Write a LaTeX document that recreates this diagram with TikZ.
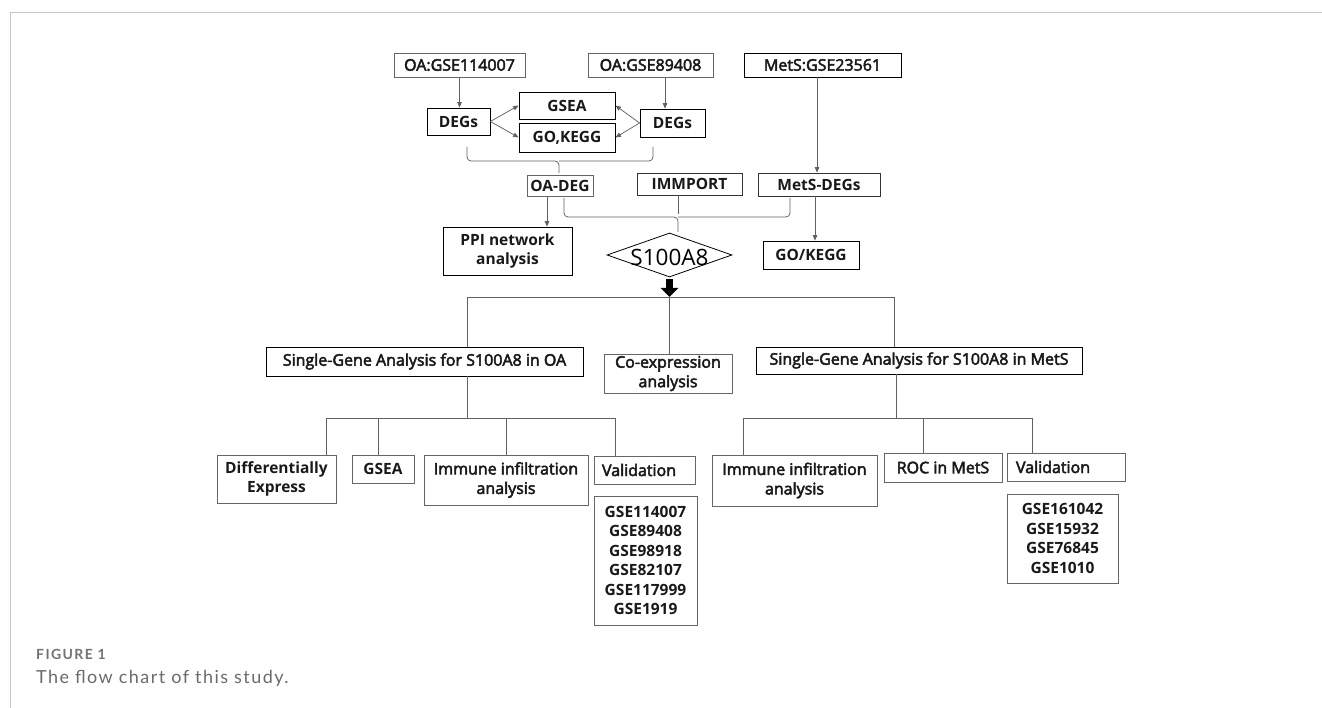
\documentclass[tikz,border=0pt]{standalone}
\usepackage{fontspec}
\setmainfont{Open Sans}
\newfontfamily\medf{Open Sans}[FakeBold=3]
\newfontfamily\capfont{Lato}
\usetikzlibrary{arrows.meta,shapes.geometric,calc}
\begin{document}
\begin{tikzpicture}[x=1pt,y=-1pt,
  bx/.style={draw=#1, line width=0.8pt, inner sep=0pt, align=center,
    font=\bfseries\fontsize{15.5}{19.5}\selectfont, text=black!90},
  bx/.default=black!60,
  md/.style={font=\medf\fontsize{16}{19.5}\selectfont},
  sz/.style 2 args={minimum width=#1pt, minimum height=#2pt},
  ln/.style={draw=black!62, line width=0.75pt},
  arr/.style={ln, -{Triangle[length=5.5pt,width=4.5pt]}},
  br/.style={ln, rounded corners=4pt},
]
\useasboundingbox (0,0) rectangle (1322,708);
% frame
\draw[black!22, line width=1pt] (10,708) -- (10,13) -- (1322,13);

% top row
\node[bx, md, sz={131}{24}] (g114) at (459.5,65) {OA:GSE114007};
\node[bx, md, sz={125}{24}] (g894) at (650.5,65) {OA:GSE89408};
\node[bx=black, md, sz={157}{24}] (g235) at (822.5,65) {MetS:GSE23561};
\node[bx=black, sz={63}{27}] (degL) at (458.5,121.5) {DEGs};
\node[bx=black, sz={96}{27}] (gsea1) at (567,105.5) {GSEA};
\node[bx=black, sz={96}{29}] (gok1) at (567,137.5) {GO,KEGG};
\node[bx=black, sz={65}{28}] (degR) at (672.5,123) {DEGs};
\node[bx, sz={66}{21}] (oadeg) at (560,185.5) {OA-DEG};
\node[bx=black!80, sz={105}{22}] (imm) at (689.5,184) {IMMPORT};
\node[bx=black!80, sz={122}{23}] (metsdeg) at (819,184.5) {MetS-DEGs};
\node[bx=black, sz={129}{48}] (ppi) at (507.5,251) {PPI network\\analysis};
\node[bx=black, sz={96}{28}] (gok2) at (811,255) {GO/KEGG};
\node[draw, diamond, line width=0.8pt, minimum width=125pt, minimum height=44pt, inner sep=0pt] (s100) at (669.5,255) {};
\node[font=\fontsize{22.5}{26}\selectfont, inner sep=0pt] (s100t) at ([yshift=-2pt]s100.center) {S100A8};

% connectors top
\draw[arr] (g114.south) -- (g114.south |- degL.north);
\draw[arr] ([xshift=14.5pt]g894.south) -- ([xshift=14.5pt]g894.south |- degR.north);
\draw[arr] ([xshift=-5.5pt]g235.south) -- ([xshift=-5.5pt]g235.south |- metsdeg.north);
\draw[arr] (degL.east) -- (gsea1.west);
\draw[arr] (degL.east) -- (gok1.west);
\draw[arr] (degR.west) -- (gsea1.east);
\draw[arr] (degR.west) -- (gok1.east);
% braces
\draw[br] (467,147) |- (559,161) -- (559,173);
\draw[br] (653,147) |- (559,161);
\draw[br] (564,198) |- (678,217) -- (678,232);
\draw[br] (790,198) |- (678,217);
\draw[ln] (imm.south -| 678,0) -- (678,214);
\draw[arr] ([xshift=-13pt]oadeg.south) -- ([xshift=-13pt]oadeg.south |- ppi.north);
\draw[arr] ([xshift=-4pt]metsdeg.south) -- ([xshift=-4pt]metsdeg.south |- gok2.north);

% thick arrow
\coordinate (hb) at (669.5,297);
\draw[line width=7pt, -{Triangle[length=9pt,width=17pt]}] ([yshift=-2pt]s100.south) -- (hb);

% second level
\node[bx=black, md, sz={317}{29}] (sgoa) at (424.5,361.5) {Single-Gene Analysis for S100A8 in OA};
\node[bx, md, sz={128}{39}] (coex) at (668,373.5) {Co-expression\\analysis};
\node[bx=black, md, sz={326}{27}] (sgmets) at (919,360.5) {Single-Gene Analysis for S100A8 in MetS};

\coordinate (t1) at (467,297);
\coordinate (t2) at (894,297);
\draw[ln] (sgoa.north -| t1) -- (t1) -- (t2) -- (sgmets.north -| t2);
\draw[ln] (hb) -- (coex.north -| hb);

% third level left
\node[bx, sz={119}{48}] (diff) at (276.5,479) {Differentially\\Express};
\node[bx, sz={62}{28}] (gsea2) at (383,469) {GSEA};
\node[bx, md, sz={164}{50}] (imml) at (506,480) {Immune infiltration\\analysis};
\node[bx, md, sz={101}{28}, text width=85pt, align=left] (vall) at (644.5,470) {Validation};
\node[bx, sz={103}{129}] (listl) at (645.5,560.5) {GSE114007\\GSE89408\\GSE98918\\GSE82107\\GSE117999\\GSE1919};

\coordinate (u1) at (467,418);
\coordinate (ul) at (326,418);
\coordinate (ur) at (615,418);
\coordinate (u2) at (378,418);
\coordinate (u3) at (506,418);
\draw[ln] (sgoa.south -| u1) -- (u1);
\draw[ln] (diff.north -| ul) -- (ul) -- (ur) -- (vall.north -| ur);
\draw[ln] (u2) -- (gsea2.north -| u2);
\draw[ln] (u3) -- (imml.north -| u3);

% third level right
\node[bx, md, sz={165}{51}] (immr) at (794.5,480.5) {Immune infiltration\\analysis};
\node[bx, md, sz={118}{29}] (roc) at (943,467.5) {ROC in MetS};
\node[bx, md, sz={118}{28}, text width=100pt, align=left] (valr) at (1066,467) {Validation};
\node[bx, sz={111}{89}] (listr) at (1062.5,538.5) {GSE161042\\GSE15932\\GSE76845\\GSE1010};

\coordinate (v1) at (896,418);
\coordinate (vl) at (743,418);
\coordinate (vr) at (1032,418);
\coordinate (v2) at (923,418);
\draw[ln] (sgmets.south -| v1) -- (v1);
\draw[ln] (immr.north -| vl) -- (vl) -- (vr) -- (valr.north -| vr);
\draw[ln] (v2) -- (roc.north -| v2);

% caption
\node[anchor=base west, font=\capfont\bfseries\fontsize{14}{16}\selectfont\addfontfeatures{LetterSpace=10}, text=black!55, inner sep=0pt] (fig) at (36,659) {FIGURE 1};
\node[anchor=base west, font=\capfont\fontsize{18}{21}\selectfont\addfontfeatures{LetterSpace=8}, text=black!58, inner sep=0pt] (cap) at (36,683) {The flow chart of this study.};
\end{tikzpicture}
\end{document}
